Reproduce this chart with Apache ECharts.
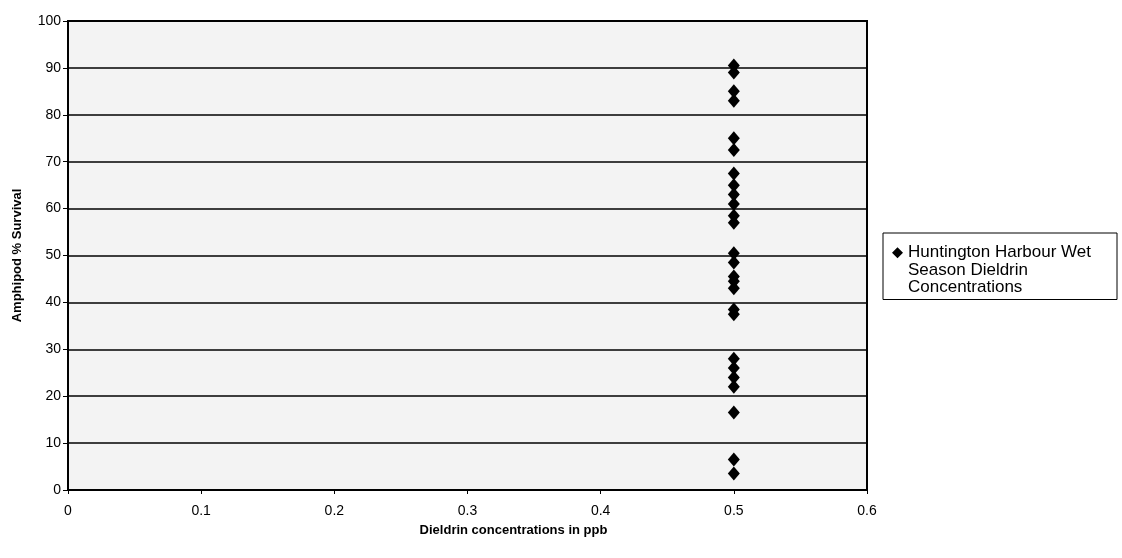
<!DOCTYPE html>
<html>
<head>
<meta charset="utf-8">
<title>Amphipod % Survival vs Dieldrin</title>
<script src="https://cdn.jsdelivr.net/npm/echarts@6/dist/echarts.min.js"></script>
<style>
    html, body {
        margin: 0;
        padding: 0;
        background: #fff;
    }
    #chart {
        width: 1122px;
        height: 558px;
    }
</style>
</head>
<body>
<div id="chart"></div>
<script>
// Huntington Harbour wet season samples
var dieldrinPpb = [0.5, 0.5, 0.5, 0.5, 0.5, 0.5, 0.5, 0.5, 0.5, 0.5, 0.5, 0.5, 0.5, 0.5,
    0.5, 0.5, 0.5, 0.5, 0.5, 0.5, 0.5, 0.5, 0.5, 0.5, 0.5, 0.5, 0.5];
var survivalPct = [90.5, 89, 85, 83, 75, 72.5, 67.5, 65, 63, 61, 58.5, 57, 50.5, 48.5,
    45.5, 44.5, 43, 38.5, 37.5, 28, 26, 24, 22, 16.5, 6.5, 3.5];
var xTicks = [0, 0.1, 0.2, 0.3, 0.4, 0.5, 0.6];
var yTicks = [0, 10, 20, 30, 40, 50, 60, 70, 80, 90, 100];
var seriesName = "Huntington Harbour Wet Season Dieldrin Concentrations";

var points = survivalPct.map(function (v, i) {
    return [dieldrinPpb[i], v];
});

var font = "'Liberation Sans', Arial, sans-serif";
var chart = echarts.init(document.getElementById("chart"));
chart.setOption({
    animation: false,
    backgroundColor: "#fff",
    textStyle: {
        fontFamily: font
    },
    grid: {
        left: 68,
        right: 255,
        top: 21,
        bottom: 68,
        show: true,
        backgroundColor: "#f3f3f3",
        borderColor: "#000",
        borderWidth: 2
    },
    legend: {
        left: 883,
        top: 233,
        orient: "vertical",
        padding: [11, 26, 3, 9],
        borderColor: "#000",
        borderWidth: 1,
        backgroundColor: "#fff",
        itemWidth: 11,
        itemHeight: 52,
        // diamond drawn in the top part of the box so it sits on line one
        data: [{
            name: seriesName,
            icon: "path://M5.5,3L11,8.5L5.5,14L0,8.5Z M5.5,0L5.51,0 M5.5,52L5.51,52"
        }],
        formatter: function () {
            return "Huntington Harbour Wet\nSeason Dieldrin\nConcentrations";
        },
        textStyle: {
            fontSize: 17,
            lineHeight: 17.5,
            color: "#000",
            fontFamily: font
        }
    },
    xAxis: {
        type: "value",
        min: xTicks[0],
        max: xTicks[xTicks.length - 1],
        interval: 0.1,
        name: "Dieldrin concentrations in ppb",
        nameLocation: "middle",
        nameGap: 34,
        nameTextStyle: {
            fontSize: 13,
            fontWeight: "bold",
            color: "#000",
            padding: [0, 0, 0, 92]
        },
        axisLine: {
            lineStyle: { color: "#000", width: 2 }
        },
        axisTick: {
            show: true,
            length: 4,
            lineStyle: { color: "#000" }
        },
        axisLabel: {
            fontSize: 14,
            color: "#000",
            margin: 14
        },
        splitLine: { show: false }
    },
    yAxis: {
        type: "value",
        min: yTicks[0],
        max: yTicks[yTicks.length - 1],
        interval: 10,
        name: "Amphipod % Survival",
        nameLocation: "middle",
        nameGap: 44,
        nameTextStyle: {
            fontSize: 13,
            fontWeight: "bold",
            color: "#000"
        },
        axisLine: {
            show: true,
            lineStyle: { color: "#000", width: 2 }
        },
        axisTick: {
            show: true,
            length: 5,
            lineStyle: { color: "#000" }
        },
        axisLabel: {
            fontSize: 14,
            color: "#000",
            margin: 7
        },
        splitLine: {
            show: true,
            lineStyle: { color: "#000", width: 1.5 }
        }
    },
    series: [
        {
            name: seriesName,
            type: "scatter",
            symbol: "diamond",
            symbolSize: [12, 14],
            itemStyle: { color: "#000", opacity: 1 },
            data: points
        }
    ]
});
</script>
</body>
</html>
